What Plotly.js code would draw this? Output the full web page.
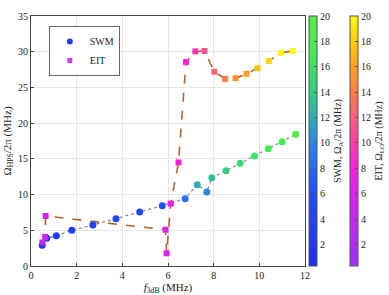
<!DOCTYPE html>
<html><head><meta charset="utf-8">
<script src="https://cdn.plot.ly/plotly-3.0.1.min.js"></script>
<style>html,body{margin:0;padding:0;background:#fff}</style>
</head><body><div id="plot" style="width:389px;height:295px"></div>
<script>
// SWM data
const swmF = [0.49,0.69,1.11,1.79,2.71,3.72,4.76,5.75,6.75,7.28,7.70,7.92,8.54,9.16,9.79,10.39,11.0,11.6];
const swmOmega = [2.9,3.9,4.25,5.0,5.74,6.63,7.56,8.45,9.43,11.39,10.36,12.37,13.35,14.38,15.4,16.4,17.4,18.44];
const swmRabi = [1.5,2,2.5,3,3.5,4,5,6,8.5,12,10,13,14,15,16,17,18,19.5];
// EIT data
const eitF = [0.50,0.62,0.64,5.89,5.94,6.12,6.46,6.79,7.2,7.6,8.03,8.5,8.96,9.44,9.92,10.42,10.96,11.46];
const eitOmega = [3.3,4.06,7.0,5.08,1.78,8.73,14.5,28.56,30.05,30.1,27.2,26.2,26.3,26.9,27.7,28.7,29.85,30.1];
const eitRabi = [3,4,4.5,5.5,6,7,8,8.5,9.5,11,12.5,14,15,16,17.5,18.5,19.5,20];
const cbTicks = [2,4,6,8,10,12,14,16,18,20];

const swmScale = [[0,'#1f2fff'],[0.3,'#2050ff'],[0.5,'#2a8ae8'],[0.6,'#28b0b0'],[0.7,'#30d080'],[0.85,'#44ec55'],[1,'#55f040']];
const eitScale = [[0,'#a030ff'],[0.3,'#e020f0'],[0.4,'#ff20e0'],[0.5,'#ff40a0'],[0.6,'#ff6080'],[0.7,'#ff8040'],[0.8,'#ffa020'],[0.9,'#ffd000'],[1,'#ffff00']];

const serif = 'Times New Roman';

function cb(x, title) {
  return {x:x/389, xref:'container', xanchor:'left', thickness:8, len:1, lenmode:'fraction', y:0.5, yanchor:'middle', ypad:0, xpad:0,
    outlinewidth:1, outlinecolor:'#555', tickvals:cbTicks, ticks:'inside', ticklen:3, tickcolor:'#555',
    tickfont:{family:serif, size:10, color:'#222'},
    title:{text:title, side:'right', font:{family:serif, size:10, color:'#222'}}};
}

const traces = [
  {x: swmF, y: swmOmega, mode:'lines', line:{color:'#8a8a8a', width:1.3, dash:'dot'}, showlegend:false, hoverinfo:'skip'},
  {x: eitF, y: eitOmega, mode:'lines', line:{color:'#b0642a', width:1.6, dash:'dash'}, showlegend:false, hoverinfo:'skip'},
  {x: swmF, y: swmOmega, mode:'markers', showlegend:false,
   marker:{symbol:'circle', size:7, color: swmRabi, colorscale: swmScale, cmin:0.3, cmax:20,
     colorbar: cb(309, 'SWM, Ω<sub>A</sub>/2π (MHz)')}},
  {x: eitF, y: eitOmega, mode:'markers', showlegend:false,
   marker:{symbol:'square', size:6, color: eitRabi, colorscale: eitScale, cmin:0.3, cmax:20,
     colorbar: cb(350, 'EIT, Ω<sub>LO</sub>/2π (MHz)')}},
  {x:[null], y:[null], mode:'markers', name:'SWM', marker:{symbol:'circle', size:6, color:'#1f3cff'}},
  {x:[null], y:[null], mode:'markers', name:'EIT', marker:{symbol:'square', size:5, color:'#c83cf0'}}
];

const layout = {
  width:389, height:295,
  margin:{l:31, r:84, t:16, b:29, autoexpand:false},
  paper_bgcolor:'#fff', plot_bgcolor:'#fff',
  font:{family:serif, size:10, color:'#222'},
  xaxis:{range:[0,12], dtick:2, showgrid:true, gridcolor:'#e6e6e6', zeroline:false,
    showline:true, mirror:true, linecolor:'#444', linewidth:1, ticks:'inside', ticklen:3, tickcolor:'#444',
    tickfont:{family:serif, size:10}, automargin:false,
    title:{text:'<i>f</i><sub>3dB</sub> (MHz)', font:{family:serif, size:11}, standoff:2}},
  yaxis:{range:[0,35], dtick:5, showgrid:true, gridcolor:'#e6e6e6', zeroline:false,
    showline:true, mirror:true, linecolor:'#444', linewidth:1, ticks:'inside', ticklen:3, tickcolor:'#444',
    tickfont:{family:serif, size:10}, automargin:false,
    title:{text:'Ω<sub>HPS</sub>/2π (MHz)', font:{family:serif, size:11}, standoff:4}},
  legend:{x:0.065, y:0.96, xanchor:'left', yanchor:'top', bgcolor:'#fff', bordercolor:'#666', borderwidth:1,
    font:{family:serif, size:10}, itemwidth:30, tracegroupgap:0},
  showlegend:true
};
Plotly.newPlot('plot', traces, layout, {displayModeBar:false, staticPlot:true});
</script></body></html>
